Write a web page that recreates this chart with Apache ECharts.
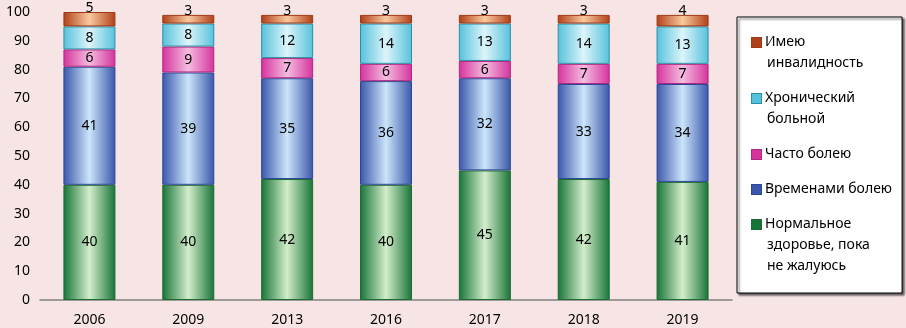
<!DOCTYPE html>
<html><head><meta charset="utf-8">
<script src="https://cdn.jsdelivr.net/npm/echarts@6/dist/echarts.min.js"></script>
<style>html,body{margin:0;padding:0;background:#F7E5E5;}#c{width:906px;height:328px;}</style>
</head><body><div id="c"></div>
<script>
const categories = ['2006','2009','2013','2016','2017','2018','2019'];
const normal   = [40, 40, 42, 40, 45, 42, 41];
const sometimes= [41, 39, 35, 36, 32, 33, 34];
const often    = [6, 9, 7, 6, 6, 7, 7];
const chronic  = [8, 8, 12, 14, 13, 14, 13];
const disabled = [5, 3, 3, 3, 3, 3, 4];
const names = ['Нормальное здоровье, пока не жалуюсь','Временами болею','Часто болею','Хронический больной','Имею инвалидность'];
const legendText = {
  'Имею инвалидность': ['Имею','инвалидность'],
  'Хронический больной': ['Хронический','больной'],
  'Часто болею': ['Часто болею'],
  'Временами болею': ['Временами болею'],
  'Нормальное здоровье, пока не жалуюсь': ['Нормальное','здоровье, пока','не жалуюсь']
};
const styles = [
  {edge:'#177437', mid:'#D3EDCB', border:'#1D6A33', key:'g'},
  {edge:'#3A56AA', mid:'#CBE5FA', border:'#2B4796', key:'b'},
  {edge:'#D5339D', mid:'#F4BCDF', border:'#B0287F', key:'p'},
  {edge:'#55C2DB', mid:'#DDF4FA', border:'#2C8DA6', key:'c'},
  {edge:'#B0401A', mid:'#FAC99E', border:'#9C3A18', key:'o'}
];
const dataSets = [normal, sometimes, often, chronic, disabled];
const FONT = 'Noto Sans';
function grad(s){
  return new echarts.graphic.LinearGradient(0,0,1,0,[
    {offset:0,color:s.edge},{offset:0.5,color:s.mid},{offset:1,color:s.edge}]);
}
const series = dataSets.map((d,i)=>({
  name: names[i], type:'bar', stack:'all', data:d, barWidth:52,
  itemStyle:{color:grad(styles[i]), borderColor:styles[i].border, borderWidth:1},
  label:{show:true, position: i===4 ? 'top' : 'inside', distance: i===4 ? -3 : 5,
    color:'#000', fontFamily:FONT, fontSize:14}
}));
const rich = {t:{fontFamily:FONT,fontSize:14,color:'#000',lineHeight:21}, ind:{width:15,lineHeight:21}, gap:{width:4,lineHeight:21}};
styles.forEach(s=>{ rich['sq'+s.key] = {width:9,height:9,backgroundColor:s.edge,borderColor:s.border,borderWidth:1}; });
const chart = echarts.init(document.getElementById('c'));
chart.setOption({
  backgroundColor:'#F7E5E5',
  animation:false,
  grid:{left:40,right:174,top:12,bottom:28},
  xAxis:{type:'category',data:categories,
    axisLine:{lineStyle:{color:'#808080',width:1.5}},axisTick:{show:false},
    axisLabel:{color:'#000',fontFamily:FONT,fontSize:14,margin:13}},
  yAxis:{type:'value',min:0,max:100,interval:10,
    axisLine:{show:false},axisTick:{show:false},splitLine:{show:false},
    axisLabel:{color:'#000',fontFamily:FONT,fontSize:14,margin:10}},
  legend:{orient:'vertical',left:737,top:17,icon:'none',itemWidth:0,itemHeight:10,itemGap:14,
    padding:[15,10,16,10],
    backgroundColor:'#FFFFFF',borderColor:'#000',borderWidth:1,
    shadowColor:'rgba(0,0,0,0.6)',shadowBlur:2,shadowOffsetX:2,shadowOffsetY:2,
    data:[names[4],names[3],names[2],names[1],names[0]],
    formatter:function(n){
      const idx = names.indexOf(n); const k = styles[idx].key;
      const lines = legendText[n];
      return lines.map((l,j)=> j===0 ? '{sq'+k+'|}{gap|}{t|'+l+'}' : '{ind|}{t|'+l+'}').join('\n');
    },
    textStyle:{fontFamily:FONT,fontSize:14,lineHeight:21,rich:rich}},
  series:series
});
</script></body></html>
